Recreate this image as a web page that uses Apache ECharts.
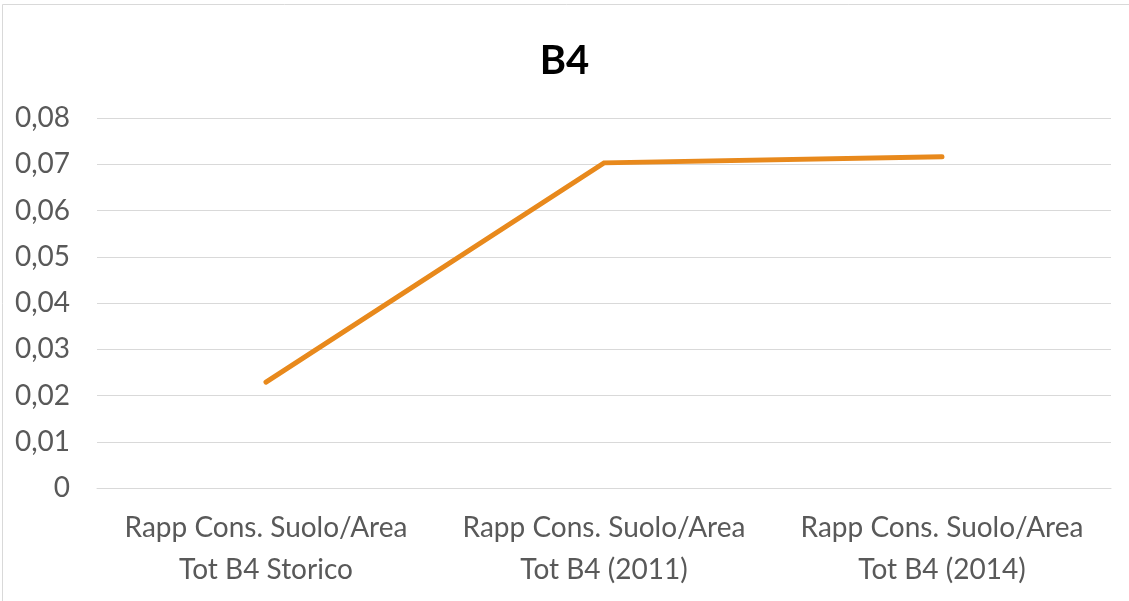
<!DOCTYPE html>
<html>
<head>
<meta charset="utf-8">
<script src="https://cdn.jsdelivr.net/npm/echarts@6/dist/echarts.min.js"></script>
<style>
  html, body { margin: 0; padding: 0; background: #fff; }
  #chart { width: 1129px; height: 601px; }
</style>
</head>
<body>
<div id="chart"></div>
<script>
// Categories along the x axis
const categories = [
  'Rapp Cons. Suolo/Area\nTot B4 Storico',
  'Rapp Cons. Suolo/Area\nTot B4 (2011)',
  'Rapp Cons. Suolo/Area\nTot B4 (2014)'
];
// Ratio values per category
const ratios = [0.0229, 0.0703, 0.0716];

const FONT = 'Lato, "Open Sans", sans-serif';
const chart = echarts.init(document.getElementById('chart'));
chart.setOption({
  animation: false,
  title: {
    text: 'B4',
    left: 'center',
    top: 36,
    textStyle: { fontFamily: FONT, fontSize: 40, fontWeight: 'bold', color: '#000' }
  },
  graphic: [{
    type: 'rect',
    shape: { x: 2.5, y: 4.5, width: 1140, height: 620 },
    style: { fill: 'none', stroke: '#d9d9d9', lineWidth: 1 },
    silent: true
  }],
  grid: { left: 97, right: 18, top: 118, bottom: 113 },
  xAxis: {
    type: 'category',
    data: categories,
    boundaryGap: true,
    axisLine: { show: true, lineStyle: { color: '#d9d9d9', width: 1 } },
    axisTick: { show: false },
    axisLabel: {
      fontFamily: FONT, fontSize: 28, color: '#595959',
      lineHeight: 42, margin: 19, interval: 0
    }
  },
  yAxis: {
    type: 'value',
    min: 0, max: 0.08, interval: 0.01,
    axisLine: { show: false },
    axisTick: { show: false },
    splitLine: { lineStyle: { color: '#d9d9d9', width: 1 } },
    axisLabel: {
      fontFamily: FONT, fontSize: 28, color: '#595959', margin: 27,
      formatter: v => v === 0 ? '0' : v.toFixed(2).replace('.', ',')
    }
  },
  series: [{
    type: 'line',
    data: ratios,
    symbol: 'none',
    lineStyle: { color: '#E8891C', width: 5, cap: 'round', join: 'miter' },
    itemStyle: { color: '#E8891C' }
  }]
});
</script>
</body>
</html>
